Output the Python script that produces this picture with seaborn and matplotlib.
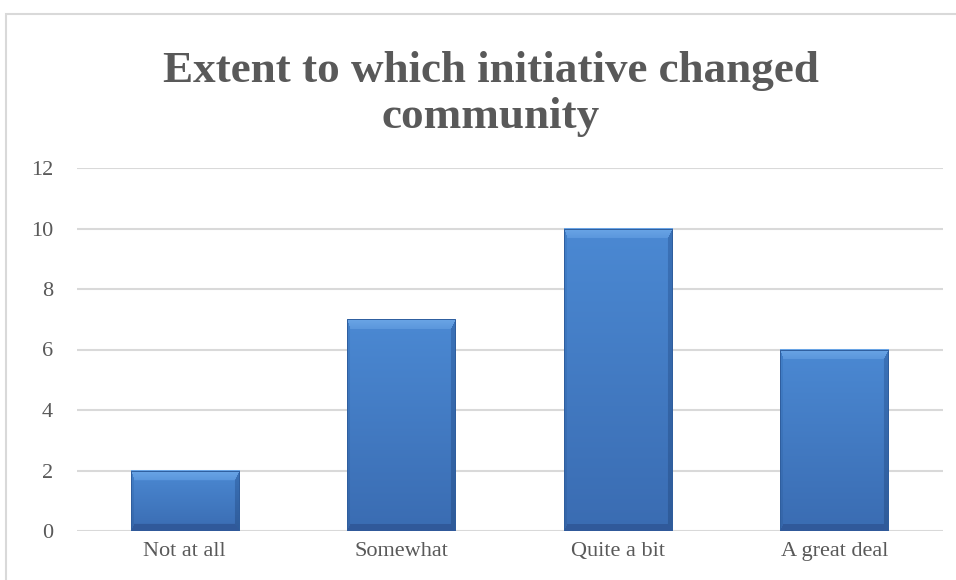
import matplotlib
matplotlib.use("Agg")
import matplotlib.pyplot as plt
from matplotlib.patches import Rectangle
import seaborn as sns
import pandas as pd
import numpy as np

# data
categories = ["Not at all", "Somewhat", "Quite a bit", "A great deal"]
counts = [2, 7, 10, 6]
y_ticks = [0, 2, 4, 6, 8, 10, 12]
title = "Extent to which initiative changed\ncommunity"

grey_text = "#595959"
grid_grey = "#d9d9d9"

sns.set_style("white")
plt.rcParams["font.family"] = ["Liberation Serif", "DejaVu Serif"]

df = pd.DataFrame({"category": categories, "count": counts})

fig = plt.figure(figsize=(9.56, 5.8), dpi=100)
ax = fig.add_axes([76.5 / 956, 1 - 531 / 580, 866 / 956, 363 / 580])

sns.barplot(data=df, x="category", y="count", color="#4a82c8", width=0.5,
            saturation=1, ax=ax, zorder=3)

ax.set_ylim(0, 12)
ax.set_xlim(-0.5, len(categories) - 0.5)
ax.set_yticks(y_ticks)
ax.yaxis.grid(True, color=grid_grey, linewidth=1.5, zorder=0)
ax.set_axisbelow(True)
for s in ax.spines.values():
    s.set_visible(False)
ax.set_xlabel("")
ax.set_ylabel("")
ax.tick_params(axis="y", length=0, pad=17, labelsize=16, labelcolor=grey_text)
ax.tick_params(axis="x", length=0, pad=8, labelsize=16, labelcolor=grey_text)

# chart frame
fig.patches.append(Rectangle((6 / 956, -0.2), 1.2, 1 - 14 / 580 + 0.2,
                             transform=fig.transFigure, fill=False,
                             edgecolor=grid_grey, linewidth=1.5, zorder=0))

fig.text(491 / 956, 1 - 94 / 580, title, ha="center", va="center",
         fontsize=32.5, fontweight="bold", color=grey_text, linespacing=1.22)

# bevelled gradient fill for each bar
fig.canvas.draw()
def rgb(h):
    return np.array([int(h[i:i + 2], 16) for i in (1, 3, 5)]) / 255

top_c, bot_c = rgb("#4b89d3"), rgb("#3a6cb2")
# side: (colour at top, colour at bottom, width px)
sides = {
    "left": (rgb("#4280c9"), rgb("#3565a8"), 3),
    "right": (rgb("#3b72b8"), rgb("#2f5b99"), 5),
    "bottom": (rgb("#355f9f"), rgb("#30599a"), 7),
    "top": (rgb("#6aa5e6"), rgb("#5a96dc"), 10),
}
for p in list(ax.patches):
    x0, y0, w, h = p.get_x(), p.get_y(), p.get_width(), p.get_height()
    (px0, py0), (px1, py1) = ax.transData.transform([(x0, y0), (x0 + w, y0 + h)])
    wp, hp = int(round(px1 - px0)), int(round(py1 - py0))
    rows = np.arange(hp)[:, None] * np.ones((1, wp))
    cols = np.ones((hp, 1)) * np.arange(wp)[None, :]
    frac = (rows / max(hp - 1, 1))[..., None]
    img = top_c * (1 - frac) + bot_c * frac
    dist = {"top": rows, "bottom": hp - 1 - rows, "left": cols, "right": wp - 1 - cols}
    # scaled distance so corners are mitred between sides of different widths
    scaled = {k: dist[k] / sides[k][2] for k in dist}
    smin = np.minimum.reduce(list(scaled.values()))
    for k in ["left", "right", "bottom", "top"]:
        c_top, c_bot, bw = sides[k]
        mask = (scaled[k] == smin) & (dist[k] < bw)
        if k == "top":
            t = (dist[k] / bw)[..., None]
            shade = c_top * (1 - t) + c_bot * t
        else:
            shade = c_top * (1 - frac) + c_bot * frac
        img[mask] = shade[mask]
    ax.imshow(img, extent=(x0, x0 + w, y0, y0 + h), aspect="auto",
              interpolation="bilinear", zorder=4)
    p.set_facecolor("none")
    p.set_edgecolor("#2f5e9e")
    p.set_linewidth(0.7)
    p.set_zorder(5)

ax.set_xlim(-0.5, len(categories) - 0.5)
ax.set_ylim(0, 12)

fig.savefig("out.png", dpi=100)
